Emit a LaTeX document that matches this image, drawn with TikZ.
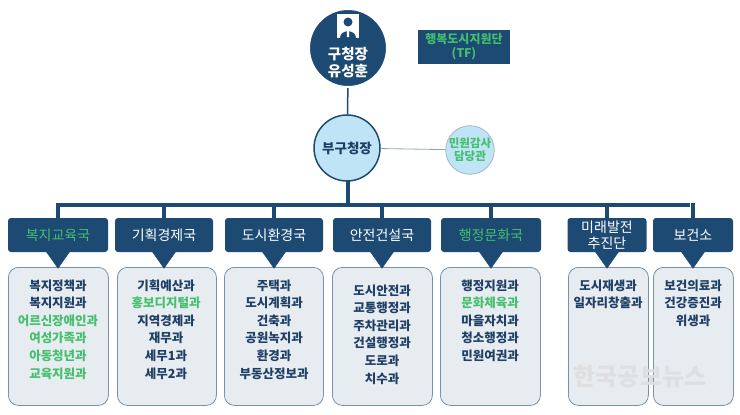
\documentclass[tikz,border=0pt]{standalone}
\usepackage{fontspec}
\setmainfont{Noto Sans CJK KR}
\usepackage{tikz}
\usetikzlibrary{positioning}
\definecolor{navy}{HTML}{1D4A73}
\definecolor{grn}{HTML}{45BE6E}
\definecolor{sky}{HTML}{BFE4F6}
\definecolor{boxgray}{HTML}{E6ECF0}
\definecolor{txt}{HTML}{1F3F66}
\tikzset{
  dept/.style={fill=navy,rounded corners=3pt,minimum height=34pt,inner sep=0pt,text=white,font=\fontsize{14}{16}\selectfont,align=center},
  unit/.style={fill=boxgray,draw=navy!60,line width=0.8pt,rounded corners=10pt,inner sep=0pt,anchor=north west},
  bus/.style={navy,line width=3.5pt},
  gr/.style={text=grn}
}
\begin{document}
\begin{tikzpicture}[x=1pt,y=-1pt]
                \useasboundingbox (0,0) rectangle (740,415);
                \fill[white] (0,0) rectangle (740,415);
                % top
                \node (tf) [fill=navy,minimum width=92pt,minimum height=34pt,inner sep=0pt,text=grn,align=center,font=\bfseries\fontsize{12}{14}\selectfont] at (464,47) {행복도시지원단\\(TF)};
                \node (vice) [circle,fill=sky,draw=navy,line width=1.5pt,minimum size=66pt,inner sep=0pt,text=txt,font=\bfseries\fontsize{13.5}{15}\selectfont] at (347,148) {부구청장};
                \node (audit) [circle,fill=sky,draw=navy!40,line width=0.8pt,minimum size=44pt,inner sep=0pt,text=grn,align=center,font=\bfseries\fontsize{11.5}{13}\selectfont] at (470,150) {민원감사\\담당관};
                \draw[navy!50,line width=0.8pt] (vice) -- (audit);
                \draw[navy,line width=1.5pt] (348,80) -- (vice);
                \node (head) [circle,fill=navy,draw=white,line width=2pt,minimum size=78pt,inner sep=0pt] at (348,48) {};
                \node (name) [text=white,align=center,font=\bfseries\fontsize{14.5}{17}\selectfont] at (348,63) {구청장\\유성훈};
                % person icon
                \fill[white] (337,14) rectangle (359,38);
                \fill[navy] (348,22) circle (4.5);
                \fill[navy] (340,38) .. controls (340,29) and (356,29) .. (356,38) -- cycle;
                \fill[white] (346.8,30) -- (349.2,30) -- (349,37) -- (347,37) -- cycle;
                % bus
                \draw[bus] (60,205) -- (690,205);
                \draw[bus] (348,181) -- (348,205);
                % unit boxes
                \foreach \n/\x/\w in {1/8/100, 2/117/99, 3/224/99, 4/332/100, 5/440/100, 6/568/80, 7/653/80}{
                  \node (u\n) [unit,minimum width=\w pt,minimum height=138pt] at (\x,267) {};
                }
                % departments
                \foreach \n/\x/\w/\lab/\c in {1/58/100/복지교육국/grn, 2/164/98/기획경제국/white, 3/274/98/도시환경국/white, 4/382/98/안전건설국/white, 5/491/100/행정문화국/grn, 6/607/79/미래발전\\추진단/white, 7/693/80/보건소/white}{
                  \draw[bus] (\x,203) -- (\x,220);
                  \node (d\n) [dept,minimum width=\w pt,text=\c] at (\x,235) {\lab};
                }
                % pointers
                \foreach \n in {1,...,7}{
                  \filldraw[navy,line width=0.5pt] (d\n.south) ++(-12pt,1pt) -- ++(24pt,0pt) -- ++(-12pt,-17pt) -- cycle;
                }
                \tikzset{every node/.style={text=txt,font=\bfseries\fontsize{12.5}{17.6}\selectfont,align=center,anchor=north}}
                \node (t1) at (58,276) {복지정책과\\복지지원과\\\textcolor{grn}{어르신장애인과}\\\textcolor{grn}{여성가족과}\\\textcolor{grn}{아동청년과}\\\textcolor{grn}{교육지원과}};
                \node (t2) at (166,276) {기획예산과\\\textcolor{grn}{홍보디지털과}\\지역경제과\\재무과\\세무1과\\세무2과};
                \node (t3) at (274,276) {주택과\\도시계획과\\건축과\\공원녹지과\\환경과\\부동산정보과};
                \node (t4) at (382,281) {도시안전과\\교통행정과\\주차관리과\\건설행정과\\도로과\\치수과};
                \node (t5) at (490,276) {행정지원과\\\textcolor{grn}{문화체육과}\\마을자치과\\청소행정과\\민원여권과};
                \node (t6) at (608,276) {도시재생과\\일자리창출과};
                \node (t7) at (693,276) {보건의료과\\건강증진과\\위생과};
                \node (wm) [text=white!75!gray,font=\bfseries\fontsize{24}{26}\selectfont] at (640,362) {한국공보뉴스};
              \end{tikzpicture}
\end{document}
